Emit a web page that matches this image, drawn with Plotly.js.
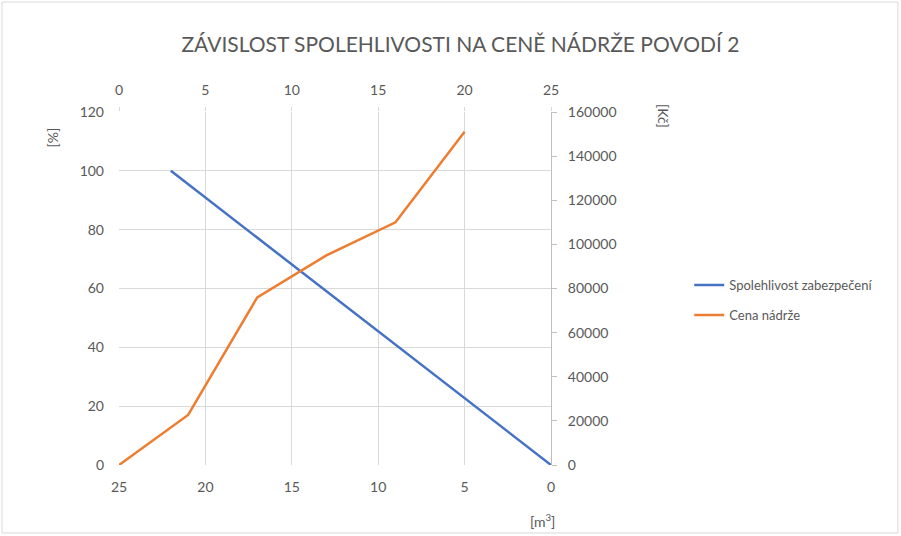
<!DOCTYPE html>
<html>
<head>
<meta charset="utf-8">
<script src="https://cdn.plot.ly/plotly-3.0.1.min.js"></script>
<style>
  body { margin: 0; background: #fff; }
  #chart { width: 901px; height: 536px; }
</style>
</head>
<body>
<div id="chart"></div>
<script>
// Spolehlivost zabezpečení (bottom reversed x axis, left y axis)
var objemSpol = [22, 5, 0];
var spolehlivost = [100, 22.5, 0];

// Cena nádrže (top x axis, right y axis)
var objemCena = [0, 4, 8, 12, 16, 20];
var cena = [0, 22700, 76000, 95000, 110000, 151000];

var fnt = 'Lato, "Open Sans", sans-serif';
var grey = '#595959';
var grid = '#d9d9d9';

var spol = {
  x: objemSpol,
  y: spolehlivost,
  name: 'Spolehlivost zabezpečení',
  type: 'scatter',
  mode: 'lines',
  line: {color: '#4472c4', width: 2.5},
  legendgroup: 'a',
  xaxis: 'x',
  yaxis: 'y'
};

var cen = {
  x: objemCena,
  y: cena,
  name: 'Cena nádrže',
  type: 'scatter',
  mode: 'lines',
  line: {color: '#ed7d31', width: 2.5},
  legendgroup: 'b',
  xaxis: 'x2',
  yaxis: 'y2'
};

var layout = {
  width: 901,
  height: 536,
  margin: {l: 119, r: 350, t: 112, b: 71},
  paper_bgcolor: '#fff',
  plot_bgcolor: '#fff',
  font: {family: fnt, size: 14, color: grey},
  title: {
    text: 'ZÁVISLOST SPOLEHLIVOSTI NA CENĚ NÁDRŽE POVODÍ 2',
    font: {size: 21, color: grey},
    xref: 'container', x: 0.511, xanchor: 'center',
    yref: 'container', y: 0.916, yanchor: 'middle'
  },
  showlegend: true,
  legend: {
    x: 1.32, xanchor: 'left',
    y: 0.467, yanchor: 'middle',
    traceorder: 'grouped',
    tracegroupgap: 10,
    font: {size: 13, color: grey},
    bgcolor: 'rgba(0,0,0,0)',
    itemwidth: 30
  },
  xaxis: {
    range: [25, 0],
    dtick: 5,
    showgrid: true,
    gridcolor: grid,
    zeroline: false,
    showline: false,
    ticks: '',
    ticklabelstandoff: 12,
    tickfont: {size: 14, color: grey}
  },
  xaxis2: {
    overlaying: 'x',
    side: 'top',
    range: [0, 25],
    dtick: 5,
    showgrid: false,
    zeroline: false,
    ticks: 'outside',
    ticklen: 4,
    tickcolor: grid,
    ticklabelstandoff: 6,
    tickfont: {size: 14, color: grey}
  },
  yaxis: {
    range: [0, 120],
    dtick: 20,
    showgrid: true,
    gridcolor: grid,
    zeroline: false,
    showline: false,
    ticks: '',
    ticklabelstandoff: 14,
    tickfont: {size: 14, color: grey}
  },
  yaxis2: {
    overlaying: 'y',
    side: 'right',
    range: [0, 160000],
    dtick: 20000,
    tickformat: 'd',
    showgrid: false,
    zeroline: false,
    showline: true,
    linecolor: '#bfbfbf',
    ticks: 'outside',
    ticklen: 5,
    tickcolor: '#bfbfbf',
    ticklabelstandoff: 8,
    tickfont: {size: 14, color: grey}
  },
  annotations: [
    {text: '[%]', xref: 'paper', yref: 'paper', x: -0.155, y: 0.928,
     xanchor: 'center', yanchor: 'middle',
     textangle: -90, showarrow: false, font: {size: 14, color: grey}},
    {text: '[Kč]', xref: 'paper', yref: 'paper', x: 1.259, y: 0.989,
     xanchor: 'center', yanchor: 'middle',
     textangle: 90, showarrow: false, font: {size: 14, color: grey}},
    {text: '[m<sup>3</sup>]', xref: 'paper', yref: 'paper', x: 0.981, y: -0.156,
     xanchor: 'center', yanchor: 'middle',
     showarrow: false, font: {size: 14, color: grey}}
  ],
  shapes: [
    {type: 'rect', xref: 'paper', yref: 'paper',
     x0: -0.2708, x1: 1.803, y0: -0.1926, y1: 1.3116,
     line: {color: '#d9d9d9', width: 1}, fillcolor: 'rgba(0,0,0,0)', layer: 'below'}
  ]
};

Plotly.newPlot('chart', [spol, cen], layout, {displayModeBar: false});
</script>
</body>
</html>
